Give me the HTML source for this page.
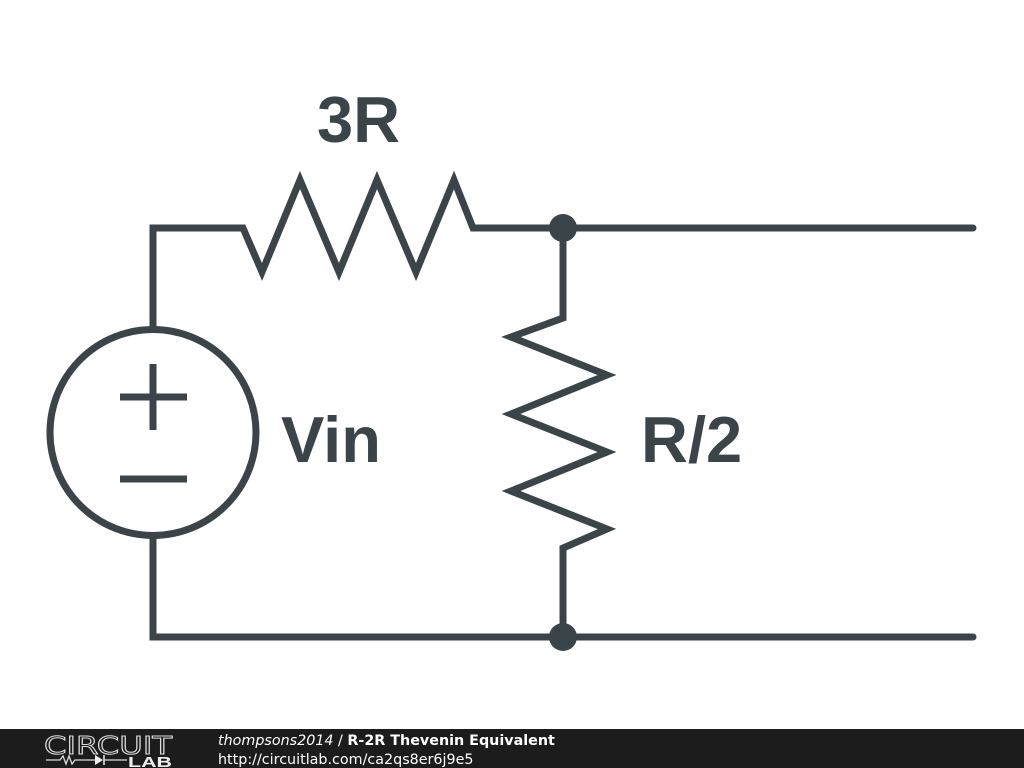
<!DOCTYPE html>
<html><head><meta charset="utf-8"><style>
html,body{margin:0;padding:0;background:#fff;}
body{width:1024px;height:768px;overflow:hidden;position:relative;}
</style></head><body>
<svg width="1024" height="768" viewBox="0 0 1024 768" style="position:absolute;left:0;top:0">
<g fill="none" stroke="#3b4449" stroke-width="7" stroke-linejoin="miter" stroke-linecap="butt">
<polyline points="153,327 153,228 243,228 262,272 300,180 339,272 377,180 416,272 454,180 473,228 563,228"/>
<line x1="563" y1="228" x2="973" y2="228" stroke-linecap="round"/>
<polyline points="563,228 563,318 511,337 607,375 511,414 607,452 511,491 607,529 563,548 563,637"/>
<polyline points="153,538 153,637 563,637"/>
<line x1="563" y1="637" x2="973" y2="637" stroke-linecap="round"/>
<circle cx="153" cy="432.5" r="103"/>
<line x1="120" y1="397" x2="187" y2="397"/>
<line x1="153" y1="364" x2="153" y2="430"/>
<line x1="120" y1="479" x2="187" y2="479"/>
</g>
<circle cx="563" cy="228" r="14" fill="#3b4449"/>
<circle cx="563" cy="637" r="14" fill="#3b4449"/>
<g font-family="Liberation Sans, sans-serif" font-weight="bold" font-size="65" fill="#3b4449">
<text x="317" y="142">3R</text>
<text x="281" y="462">Vin</text>
<text x="641" y="462">R/2</text>
</g>
<rect x="0" y="729" width="1024" height="39" fill="#1c1c1c"/>
<text x="44" y="754" font-family="DejaVu Sans, sans-serif" font-size="25" fill="none" stroke="#ddd" stroke-width="1" textLength="128" lengthAdjust="spacingAndGlyphs">CIRCUIT</text>
<polyline points="46,760 60,760 63,756 66,764 69,756 72,764 75,760 95,760" fill="none" stroke="#ddd" stroke-width="1.3"/>
<polygon points="95,755 95,765 103,760" fill="#eee"/>
<line x1="104" y1="755" x2="104" y2="765" stroke="#eee" stroke-width="1.5"/>
<line x1="104" y1="760" x2="127" y2="760" stroke="#ddd" stroke-width="1.3"/>
<text x="128" y="767" font-family="Liberation Sans, sans-serif" font-weight="bold" font-size="15" fill="#eee" textLength="44" lengthAdjust="spacingAndGlyphs">LAB</text>
<text x="218" y="745" font-family="DejaVu Sans, sans-serif" font-size="14.3" fill="#fff"><tspan font-style="italic">thompsons2014</tspan> / <tspan font-weight="bold">R-2R Thevenin Equivalent</tspan></text>
<text x="218" y="764" font-family="DejaVu Sans, sans-serif" font-size="14.3" fill="#fff">http://circuitlab.com/ca2qs8er6j9e5</text>
</svg>
</body></html>
